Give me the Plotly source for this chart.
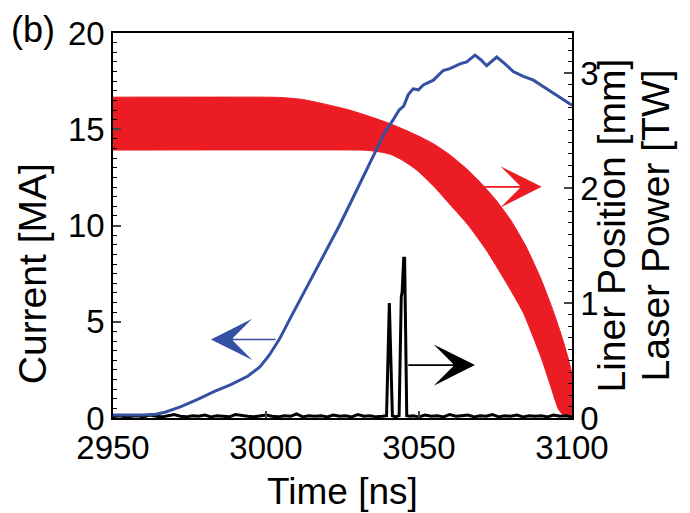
import plotly.graph_objects as go

# ---- data ----
cur_t = [2950, 2955, 2960, 2964, 2967, 2972, 2977.5, 2983, 2988.5, 2994, 2998, 3001, 3004.4,
         3008, 3012, 3016, 3020, 3024, 3028, 3032, 3036, 3039, 3041.6, 3043.5, 3045, 3046.5,
         3048.1, 3049.8, 3051.4, 3054.7, 3057.9, 3060.1, 3063.4, 3065.6, 3068.3, 3070.3, 3072.1,
         3075.4, 3078.1, 3080.8, 3084.1, 3087.4, 3091.7, 3096.1, 3100]
cur_ma = [0.15, 0.15, 0.16, 0.2, 0.3, 0.58, 0.95, 1.37, 1.73, 2.17, 2.65, 3.25, 4.1,
          5.2, 6.4, 7.6, 8.8, 10.0, 11.3, 12.6, 13.9, 14.9, 15.5, 16.0, 16.2, 16.8,
          17.1, 17.05, 17.3, 17.55, 18.05, 18.15, 18.4, 18.5, 18.85, 18.6, 18.3,
          18.75, 18.4, 18.0, 17.75, 17.55, 17.1, 16.65, 16.25]

outer_t = [2950, 3000, 3005, 3012, 3020, 3027, 3033, 3040, 3045, 3050, 3055, 3060, 3065,
           3070, 3075, 3080, 3085, 3090, 3094, 3097, 3100]
outer_mm = [2.79, 2.79, 2.787, 2.77, 2.725, 2.68, 2.63, 2.565, 2.51, 2.45, 2.38, 2.29, 2.18,
            2.05, 1.90, 1.72, 1.49, 1.20, 0.92, 0.68, 0.38]
inner_t = [2950, 3030, 3034, 3038, 3041, 3044, 3047, 3050, 3055, 3060, 3066, 3072, 3078,
           3084, 3090, 3093, 3095.5, 3097, 3100]
inner_mm = [2.33, 2.33, 2.325, 2.31, 2.29, 2.25, 2.20, 2.14, 2.01, 1.86, 1.68, 1.46, 1.20,
            0.92, 0.52, 0.28, 0.08, 0.03, 0.03]

laser_t = [2950, 2952, 2954, 2956, 2958, 2960, 2962, 2964, 2966, 2968, 2970, 2972, 2974, 2976,
           2978, 2980, 2982, 2984, 2986, 2988, 2990, 2992, 2994, 2996, 2998, 3000, 3002, 3004,
           3006, 3008, 3010, 3012, 3014, 3016, 3018, 3020, 3022, 3024, 3026, 3028, 3030, 3032,
           3034, 3036, 3038,
           3039.4, 3040.3, 3041.3, 3042.2, 3043.5, 3044.2, 3044.5, 3045.0, 3045.3, 3046.0, 3047,
           3048, 3050, 3052, 3054, 3056, 3058, 3060, 3062, 3064, 3066, 3068, 3070, 3072, 3074,
           3076, 3078, 3080, 3082, 3084, 3086, 3088, 3090, 3092, 3094, 3096, 3098, 3100]
laser_tw = [0.01, 0.02, 0.01, 0.015, 0.02, 0.01, 0.025, 0.015, 0.01, 0.02, 0.03, 0.015, 0.01, 0.02,
            0.015, 0.025, 0.01, 0.02, 0.015, 0.01, 0.03, 0.02, 0.015, 0.01, 0.02, 0.025, 0.015, 0.01,
            0.02, 0.015, 0.035, 0.01, 0.02, 0.015, 0.02, 0.01, 0.025, 0.015, 0.02, 0.01, 0.03, 0.015,
            0.02, 0.01, 0.015,
            0.02, 1.0, 0.02, 0.01, 0.02, 1.05, 1.1, 1.39, 1.39, 0.02, 0.015,
            0.02, 0.01, 0.025, 0.015, 0.02, 0.01, 0.03, 0.015, 0.02, 0.025, 0.01, 0.02, 0.015, 0.03,
            0.01, 0.02, 0.015, 0.025, 0.01, 0.02, 0.015, 0.02, 0.01, 0.025, 0.015, 0.02, 0.01]

x_ticks = [2950, 3000, 3050, 3100]
left_ticks = [0, 5, 10, 15, 20]
right_ticks = [0, 1, 2, 3]

BLUE = "#3450a2"
RED = "#ec1c24"
FONT = "Liberation Sans, Arial, sans-serif"

fig = go.Figure()

# red liner band (y2)
fig.add_trace(go.Scatter(
    x=outer_t + inner_t[::-1], y=outer_mm + inner_mm[::-1],
    yaxis="y2", fill="toself", fillcolor=RED, mode="lines",
    line=dict(color=RED, width=1, shape="spline", smoothing=0.5),
    hoverinfo="skip", showlegend=False))

# laser power (y2)
fig.add_trace(go.Scatter(
    x=laser_t, y=laser_tw, yaxis="y2", mode="lines",
    line=dict(color="black", width=3), showlegend=False))

# current (y3 overlay so it is drawn on top)
fig.add_trace(go.Scatter(
    x=cur_t, y=cur_ma, yaxis="y3", mode="lines",
    line=dict(color=BLUE, width=3), showlegend=False))

tickfont = dict(family=FONT, size=33, color="black")


def title_font(size):
    return dict(family=FONT, size=size, color="black")


fig.update_layout(
    width=690, height=513,
    margin=dict(l=113, r=118, t=33, b=95, autoexpand=False),
    paper_bgcolor="white", plot_bgcolor="white",
    showlegend=False,
    xaxis=dict(range=[2950, 3100], tickvals=x_ticks, ticks="inside", ticklen=7,
               tickwidth=1.5, showline=True, linecolor="black", linewidth=1.5,
               mirror=True, showgrid=False, zeroline=False, tickfont=tickfont,
               automargin=False),
    yaxis=dict(range=[0, 20], tickvals=left_ticks, ticks="inside", ticklen=8,
               tickwidth=1.5, showline=True, linecolor="black", linewidth=1.5,
               showgrid=False, zeroline=False, tickfont=tickfont, automargin=False,
               minor=dict(dtick=0.5, ticks="inside", ticklen=4, tickcolor="black", tickwidth=1)),
    yaxis2=dict(range=[0, 3.348], tickvals=right_ticks, ticks="inside", ticklen=8,
                tickwidth=1.5, showline=True, linecolor="black", linewidth=1.5,
                overlaying="y", side="right", anchor="x", automargin=False,
                showgrid=False, zeroline=False, tickfont=tickfont,
                minor=dict(dtick=0.1, ticks="inside", ticklen=4, tickcolor="black", tickwidth=1)),
    yaxis3=dict(range=[0, 20], overlaying="y", side="left", anchor="x", visible=False,
                showgrid=False, zeroline=False, automargin=False),
    annotations=[
        dict(text="(b)", xref="paper", yref="paper", x=-0.226, y=1.008, xanchor="left",
             yanchor="middle", showarrow=False, font=title_font(36)),
        dict(text="Time [ns]", xref="paper", yref="paper", x=0.5, y=-0.19,
             xanchor="center", yanchor="middle", showarrow=False, font=title_font(37)),
        dict(text="Current [MA]", xref="paper", yref="paper", x=-0.176, y=0.374,
             xanchor="center", yanchor="middle", textangle=-90, showarrow=False,
             font=title_font(39)),
        dict(text="Liner Position [mm]", xref="paper", yref="paper", x=1.085, y=0.50,
             xanchor="center", yanchor="middle", textangle=-90, showarrow=False,
             font=title_font(39)),
        dict(text="Laser Power [TW]", xref="paper", yref="paper", x=1.183, y=0.50,
             xanchor="center", yanchor="middle", textangle=-90, showarrow=False,
             font=title_font(39)),
        dict(x=2982.0, y=4.08, xref="x", yref="y", ax=3003.6, ay=4.08, axref="x", ayref="y",
             showarrow=True, arrowhead=3, arrowsize=4.3, arrowwidth=1.6, arrowcolor=BLUE, text=""),
        dict(x=3090.1, y=2.01, xref="x", yref="y2", ax=3068.3, ay=2.01, axref="x", ayref="y2",
             showarrow=True, arrowhead=3, arrowsize=4.3, arrowwidth=1.6, arrowcolor=RED, text=""),
        dict(x=3068.3, y=0.46, xref="x", yref="y2", ax=3046.0, ay=0.46, axref="x", ayref="y2",
             showarrow=True, arrowhead=3, arrowsize=4.3, arrowwidth=1.6, arrowcolor="black", text=""),
    ],
)

fig.write_html("out.html",
               config={"displayModeBar": False},
               post_script="document.body.style.margin='0';document.body.style.overflow='hidden';")
